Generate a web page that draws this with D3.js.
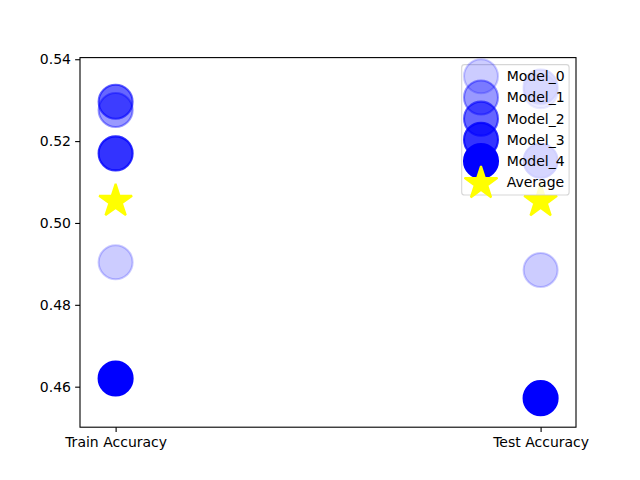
<!DOCTYPE html>
<html>
<head>
<meta charset="utf-8">
<script src="https://cdn.jsdelivr.net/npm/d3@7"></script>
<style>
  html, body { margin: 0; padding: 0; background: #fff; }
  text { font-family: "DejaVu Sans", sans-serif; font-size: 14px; fill: #000; }
</style>
</head>
<body>
<svg id="chart" width="640" height="480"></svg>
<script>
// ---- data ----
const categories = ["Train Accuracy", "Test Accuracy"];
const models = ["Model_0", "Model_1", "Model_2", "Model_3", "Model_4"];
const trainAcc = [0.4904, 0.5276, 0.5296, 0.5170, 0.4620];
const testAcc  = [0.4885, 0.5322, 0.5333, 0.5152, 0.4572];
const yTicks = [0.46, 0.48, 0.50, 0.52, 0.54];
const averageLabel = "Average";

(function () {
// ---- layout ----
const svg = d3.select("#chart");
const pLeft = 80, pRight = 576, pTop = 57.6, pBottom = 427.2;
const x = d3.scaleLinear().domain([-0.0838, 1.0833]).range([pLeft, pRight]);
const y = d3.scaleLinear().domain([0.4501, 0.5404]).range([pBottom, pTop]);
const alphas = models.map((d, i) => 0.2 * (i + 1));
const r = 17;
const starR = 17.3;
const lw = 2.08;
const fs = 14;

function starPath(R) {
  const ri = R * 0.381966;
  const pts = [];
  for (let k = 0; k < 10; k++) {
    const a = -Math.PI / 2 + k * Math.PI / 5;
    const rr = k % 2 === 0 ? R : ri;
    pts.push([rr * Math.cos(a), rr * Math.sin(a)]);
  }
  return "M" + pts.map(p => p[0].toFixed(2) + "," + p[1].toFixed(2)).join("L") + "Z";
}

// ---- markers ----
const plot = svg.append("g");
models.forEach((m, i) => {
  const vals = [trainAcc[i], testAcc[i]];
  plot.selectAll(null).data(vals).enter().append("circle")
    .attr("cx", (d, j) => x(j))
    .attr("cy", d => y(d))
    .attr("r", r)
    .attr("fill", "#0000ff").attr("fill-opacity", alphas[i])
    .attr("stroke", "#0000ff").attr("stroke-opacity", alphas[i])
    .attr("stroke-width", lw);
});
const avgs = [d3.mean(trainAcc), d3.mean(testAcc)];
plot.selectAll(null).data(avgs).enter().append("path")
  .attr("d", starPath(starR))
  .attr("transform", (d, j) => `translate(${x(j)},${y(d)})`)
  .attr("fill", "#ffff00").attr("stroke", "#ffff00")
  .attr("stroke-width", lw).attr("stroke-linejoin", "bevel");

// ---- axes ----
const yAxis = d3.axisLeft(y).tickValues(yTicks).tickFormat(d3.format(".2f"))
  .tickSize(4.86).tickPadding(4.2);
const gy = svg.append("g").attr("transform", `translate(${pLeft},0)`).call(yAxis);
const xAxis = d3.axisBottom(x).tickValues([0, 1]).tickFormat((d, i) => categories[i])
  .tickSize(4.86).tickPadding(5.3);
const gx = svg.append("g").attr("transform", `translate(0,${pBottom})`).call(xAxis);
[gx, gy].forEach(g => {
  g.select(".domain").remove();
  g.selectAll("line").attr("stroke", "#000").attr("stroke-width", 1.1);
  g.selectAll("text").attr("font-family", "DejaVu Sans").attr("font-size", fs).attr("fill", "#000");
});
svg.append("rect").attr("x", pLeft).attr("y", pTop)
  .attr("width", pRight - pLeft).attr("height", pBottom - pTop)
  .attr("fill", "none").attr("stroke", "#000").attr("stroke-width", 1.1);

// ---- legend ----
const lg = svg.append("g");
const lx0 = 461.7, ly0 = 64.6, lw0 = 569.1 - 461.7, lh0 = 195 - 64.6;
lg.append("rect").attr("x", lx0).attr("y", ly0).attr("width", lw0).attr("height", lh0)
  .attr("rx", 2.8).attr("ry", 2.8)
  .attr("fill", "#fff").attr("fill-opacity", 0.8)
  .attr("stroke", "#cccccc").attr("stroke-opacity", 0.8).attr("stroke-width", 1.1);
const rowY = i => 76.2 + i * 21.22;
const hx = 481;
models.forEach((m, i) => {
  lg.append("circle").attr("cx", hx).attr("cy", rowY(i)).attr("r", r)
    .attr("fill", "#0000ff").attr("fill-opacity", alphas[i])
    .attr("stroke", "#0000ff").attr("stroke-opacity", alphas[i])
    .attr("stroke-width", lw);
});
lg.append("path").attr("d", starPath(starR))
  .attr("transform", `translate(${hx},${rowY(5) + 1})`)
  .attr("fill", "#ffff00").attr("stroke", "#ffff00")
  .attr("stroke-width", lw).attr("stroke-linejoin", "bevel");
lg.selectAll("text.lab").data(models.concat([averageLabel])).enter().append("text")
  .attr("class", "lab")
  .attr("x", 506.7).attr("y", (d, i) => rowY(i)).attr("dy", "0.36em")
  .attr("font-size", fs)
  .text(d => d);
})();
</script>
</body>
</html>
